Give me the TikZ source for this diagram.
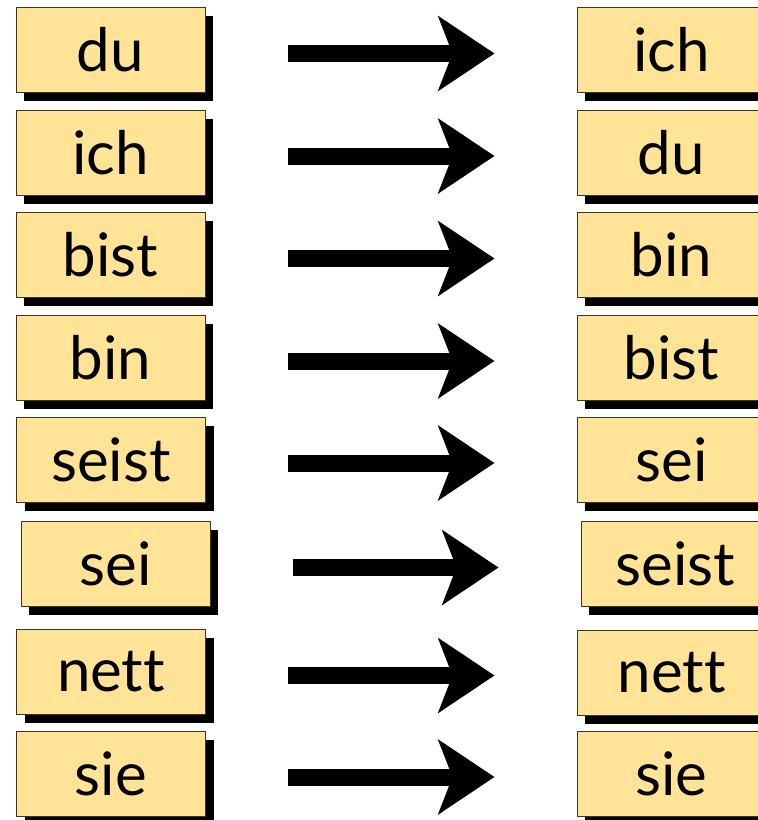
\documentclass[tikz,border=0pt]{standalone}
\usepackage{fontspec}
\setmainfont{Lato}[Ligatures=NoCommon]
\usetikzlibrary{arrows.meta,shadows}
\definecolor{boxfill}{HTML}{FFE497}
\definecolor{boxline}{HTML}{3D3520}
\tikzset{
  px/.style={x=1pt,y=1pt},
  wordbox/.style={draw=boxline, line width=1pt, fill=boxfill,
    minimum width=189pt, minimum height=85pt, inner sep=0pt,
    font=\fontsize{60}{68}\selectfont,
    drop shadow={shadow xshift=8pt, shadow yshift=-8.5pt, fill=black, opacity=1}},
  bigarrow/.style={line width=17pt, draw=black,
    -{Stealth[length=56pt, width=74pt, inset=14pt]},
    shorten <=82pt, shorten >=82pt}
}
\begin{document}
\begin{tikzpicture}[px]
\useasboundingbox (0,0) rectangle (758,-820);
\clip (0,0) rectangle (758,-820);
% left column
\node[wordbox] (l1) at (110.5,-50) {du};
\node[wordbox] (l2) at (110.5,-152.5) {ich};
\node[wordbox] (l3) at (110.5,-255) {bist};
\node[wordbox] (l4) at (110.5,-357.5) {bin};
\node[wordbox] (l5) at (111,-459.5) {seist};
\node[wordbox] (l6) at (115.5,-564) {sei};
\node[wordbox] (l7) at (111,-672) {nett};
\node[wordbox] (l8) at (111,-773.5) {sie};
% right column
\node[wordbox] (r1) at (671.5,-50) {ich};
\node[wordbox] (r2) at (671.5,-152.5) {du};
\node[wordbox] (r3) at (671.5,-255) {bin};
\node[wordbox] (r4) at (671.5,-357.5) {bist};
\node[wordbox] (r5) at (671.5,-459.5) {sei};
\node[wordbox] (r6) at (675.5,-564) {seist};
\node[wordbox] (r7) at (671.5,-672.5) {nett};
\node[wordbox] (r8) at (671.5,-774) {sie};
% arrows
\foreach \i in {1,...,8}{
  \draw[bigarrow] ([yshift=-3.5pt]l\i.east) -- ([yshift=-3.5pt]l\i.east -| r\i.west);
}
\end{tikzpicture}
\end{document}
